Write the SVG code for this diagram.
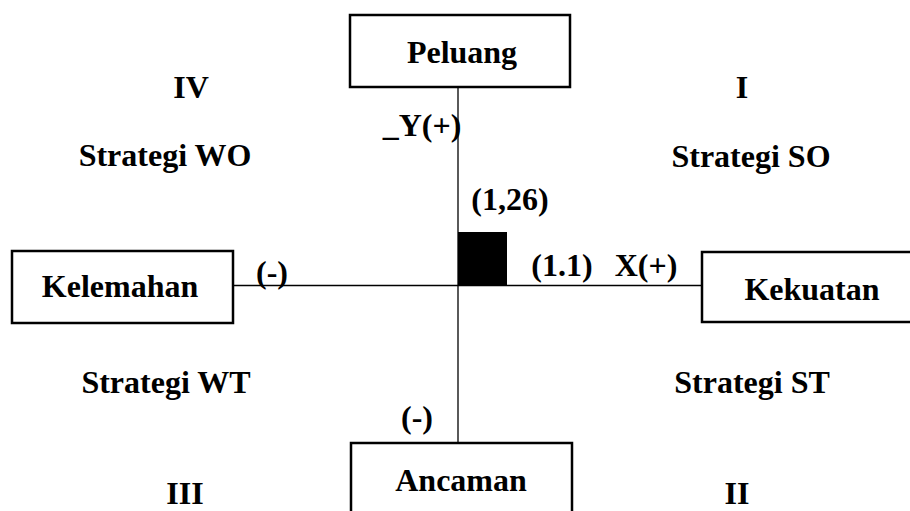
<svg xmlns="http://www.w3.org/2000/svg" width="910" height="511" viewBox="0 0 910 511">
<style>
.box{fill:#fff;stroke:#000;stroke-width:2.5}
.ax{stroke:#000;stroke-width:1.3;fill:none}
text{font-family:"Liberation Serif","Times New Roman",serif;font-weight:bold;fill:#000;text-anchor:middle}
.t{font-size:32px}
</style>
<rect width="910" height="511" fill="#fff"/>
<g id="connectors">
<line class="ax" x1="458" y1="87" x2="458" y2="443"/>
<line class="ax" x1="233" y1="285.5" x2="702" y2="285.5"/>
</g>
<g id="point">
<rect x="458" y="232" width="49" height="54" fill="#000"/>
</g>
<g id="peluang">
<rect class="box" x="350" y="15" width="220" height="72"/>
<text class="t" x="462" y="63">Peluang</text>
</g>
<g id="kelemahan">
<rect class="box" x="12" y="251" width="221" height="72"/>
<text class="t" x="120" y="297">Kelemahan</text>
</g>
<g id="kekuatan">
<rect class="box" x="702" y="252" width="210" height="70"/>
<text class="t" x="812" y="300">Kekuatan</text>
</g>
<g id="ancaman">
<rect class="box" x="351" y="443" width="221" height="80"/>
<text class="t" x="461" y="491">Ancaman</text>
</g>
<g id="labels">
<text class="t" x="191" y="98">IV</text>
<text class="t" x="742" y="98">I</text>
<text class="t" x="165" y="166">Strategi WO</text>
<text class="t" x="751" y="167">Strategi SO</text>
<text class="t" x="166" y="393">Strategi WT</text>
<text class="t" x="752" y="393">Strategi ST</text>
<text class="t" x="185" y="504">III</text>
<text class="t" x="737" y="504">II</text>
<text class="t" x="422" y="136">_Y(+)</text>
<text class="t" x="510" y="210">(1,26)</text>
<text class="t" x="562" y="276">(1.1)</text>
<text class="t" x="646" y="276">X(+)</text>
<text class="t" x="272" y="283">(-)</text>
<text class="t" x="417" y="428">(-)</text>
</g>
</svg>
